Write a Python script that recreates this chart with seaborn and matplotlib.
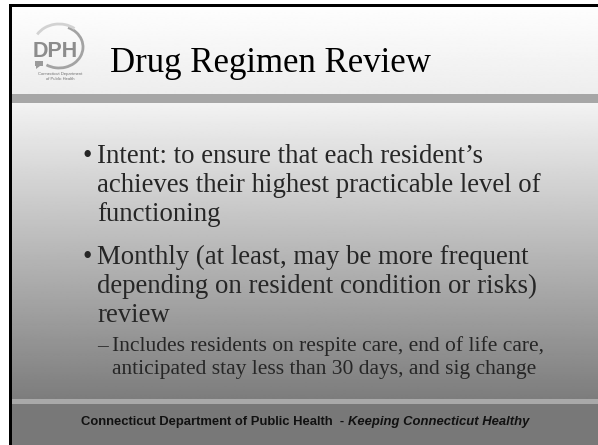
import numpy as np
import matplotlib
matplotlib.use("Agg")
import matplotlib.pyplot as plt
from matplotlib.patches import Rectangle, Arc, Polygon
import seaborn as sns

sns.set_style("white")
plt.rcParams['font.family'] = ['Liberation Serif', 'DejaVu Serif']

title = "Drug Regimen Review"
bullet1 = ["Intent: to ensure that each resident\u2019s",
           "achieves their highest practicable level of",
           "functioning"]
bullet2 = ["Monthly (at least, may be more frequent",
           "depending on resident condition or risks)",
           "review"]
sub1 = ["Includes residents on respite care, end of life care,",
        "anticipated stay less than 30 days, and sig change"]
footer_main = "Connecticut Department of Public Health  - "
footer_ital = "Keeping Connecticut Healthy"

W, H = 598, 445
fig = plt.figure(figsize=(W / 100, H / 100), dpi=100)
ax = fig.add_axes([0, 0, 1, 1])
ax.set_xlim(0, W)
ax.set_ylim(H, 0)
ax.axis("off")
fig.patch.set_facecolor("white")

L, T = 12, 7

def vgrad(y0, y1, c0, c1):
    g = np.linspace(c0, c1, 256).reshape(-1, 1)
    ax.imshow(g, cmap="gray", vmin=0, vmax=1, extent=[L, W, y1, y0],
              aspect="auto", interpolation="bilinear", zorder=0)

vgrad(T, 94, 0.995, 0.93)
ax.add_patch(Rectangle((L, 94), W - L, 9, color="#a6a6a6", lw=0, zorder=1))
vgrad(103, 399, 0.95, 0.49)
ax.add_patch(Rectangle((L, 399), W - L, 5, color="#a9a9a9", lw=0, zorder=1))
ax.add_patch(Rectangle((L, 404), W - L, H - 404, color="#787878", lw=0, zorder=1))
ax.add_patch(Rectangle((9, 4), 3, H - 4, color="black", lw=0, zorder=2))
ax.add_patch(Rectangle((9, 4), W - 9, 3, color="black", lw=0, zorder=2))

# logo
ax.text(55, 57, "DPH", fontsize=15.5, fontweight="bold", color="#8c8c8c",
        family=["Liberation Sans"], ha="center", va="baseline", zorder=3)
ax.add_patch(Arc((59, 47), 48, 42, theta1=-65, theta2=125, color="#a3a3a3",
                 lw=2.0, zorder=3))
ax.add_patch(Arc((59, 47), 52, 46, theta1=-150, theta2=-50, color="#d2d2d2",
                 lw=2.0, zorder=3))
ax.add_patch(Rectangle((35, 61), 8, 5, color="#9a9a9a", lw=0, zorder=3))
ax.add_patch(Polygon([[36, 66], [40, 66], [36, 69]], closed=True,
                     color="#9a9a9a", lw=0, zorder=3))
ax.text(60, 74, "Connecticut Department", fontsize=3, color="#707070",
        family=["Liberation Sans"], ha="center", va="center", zorder=3)
ax.text(60, 79, "of Public Health", fontsize=3, color="#707070",
        family=["Liberation Sans"], ha="center", va="center", zorder=3)

ax.text(110, 72.5, title, fontsize=25, color="black", ha="left",
        va="baseline", zorder=3)

fs = 19.3
xb, xt = 82, 97
for i, (line, yb) in enumerate(zip(bullet1, [163, 192, 221])):
    if i == 0:
        ax.text(xb, yb, "\u2022", fontsize=fs, ha="left", va="baseline", zorder=3)
    ax.text(xt, yb, line, fontsize=fs, ha="left", va="baseline", zorder=3)
for i, (line, yb) in enumerate(zip(bullet2, [264, 293, 322])):
    if i == 0:
        ax.text(xb, yb, "\u2022", fontsize=fs, ha="left", va="baseline", zorder=3)
    ax.text(xt, yb, line, fontsize=fs, ha="left", va="baseline", zorder=3)
fs2 = 15.5
for i, (line, yb) in enumerate(zip(sub1, [351, 374])):
    if i == 0:
        ax.text(97, yb, "\u2013", fontsize=fs2, ha="left", va="baseline", zorder=3)
    ax.text(112, yb, line, fontsize=fs2, ha="left", va="baseline", zorder=3)

t1 = ax.text(0, 422, footer_main, fontsize=9.4, fontweight="bold",
             family=["Liberation Sans"], color="#111111", ha="left",
             va="center", zorder=3)
t2 = ax.text(0, 422, footer_ital, fontsize=9.4, fontweight="bold",
             style="italic", family=["Liberation Sans"], color="#111111",
             ha="left", va="center", zorder=3)
fig.canvas.draw()
r = fig.canvas.get_renderer()
w1 = t1.get_window_extent(r).width
w2 = t2.get_window_extent(r).width
x0 = 305 - (w1 + w2) / 2
t1.set_x(x0)
t2.set_x(x0 + w1)

fig.savefig("out.png", dpi=100)
